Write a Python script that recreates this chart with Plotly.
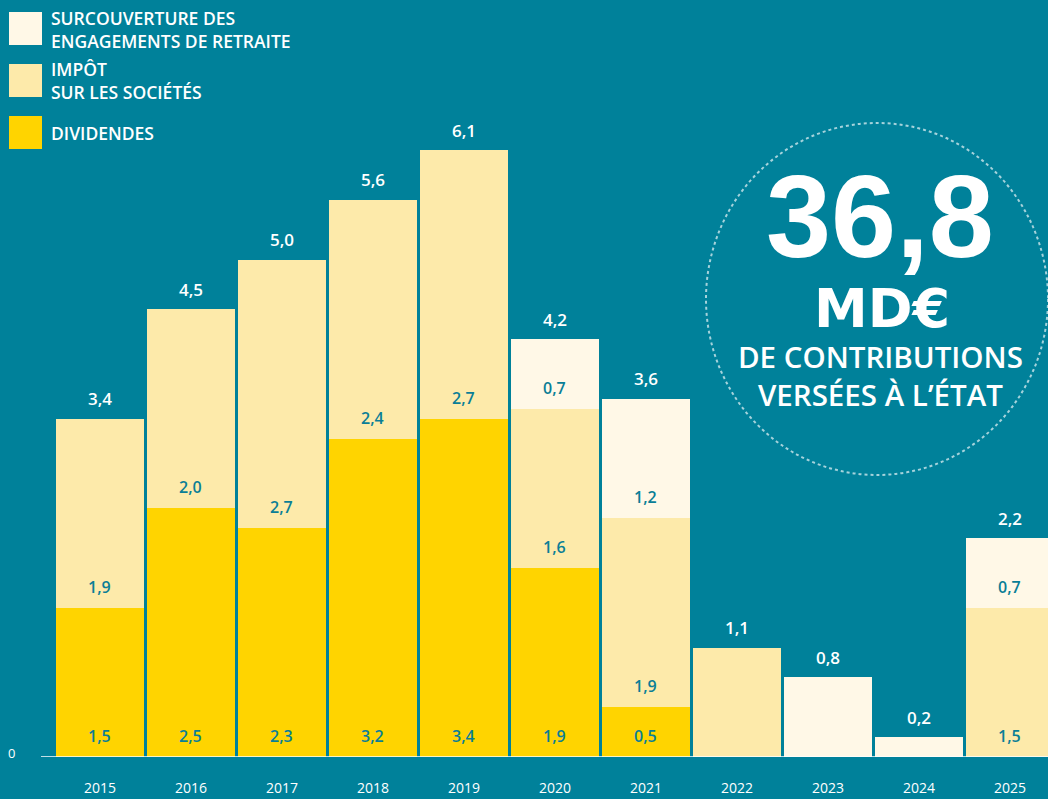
import plotly.graph_objects as go

years = ["2015", "2016", "2017", "2018", "2019", "2020", "2021", "2022", "2023", "2024", "2025"]
dividendes = [1.5, 2.5, 2.3, 3.2, 3.4, 1.9, 0.5, None, None, None, None]
impot = [1.9, 2.0, 2.7, 2.4, 2.7, 1.6, 1.9, 1.1, None, None, 1.5]
surcouverture = [None, None, None, None, None, 0.7, 1.2, None, 0.8, 0.2, 0.7]
totals = [3.4, 4.5, 5.0, 5.6, 6.1, 4.2, 3.6, 1.1, 0.8, 0.2, 2.2]

legend_labels = ["SURCOUVERTURE DES<br>ENGAGEMENTS DE RETRAITE", "IMPÔT<br>SUR LES SOCIÉTÉS", "DIVIDENDES"]

BG = "#00819A"
C_DIV = "#FFD400"
C_IS = "#FDEAAA"
C_SUR = "#FFF8E7"
TXT_IN = "#0A7E96"
FONT = "Open Sans"

W, H = 1048, 799
ML, MB, MT, MR = 41, 42, 0, 0
PW, PH = W - ML - MR, H - MT - MB


def fmt(v):
    return f"{v:.1f}".replace(".", ",")


def pxx(x):
    return (x - ML) / PW


def pxy(y):
    return (H - MB - y) / PH


fig = go.Figure()
series = [("Dividendes", dividendes, C_DIV), ("Impôt sur les sociétés", impot, C_IS),
          ("Surcouverture", surcouverture, C_SUR)]
for name, vals, col in series:
    fig.add_trace(go.Bar(x=years, y=vals, name=name, marker=dict(color=col, line=dict(width=0)),
                         hoverinfo="skip"))

annotations = []
for i, yr in enumerate(years):
    segs = [v for v in (dividendes[i], impot[i], surcouverture[i]) if v]
    base = 0.0
    if len(segs) > 1:
        for v in segs:
            annotations.append(dict(x=i, y=base, yshift=21, text=fmt(v), showarrow=False,
                                    xref="x", yref="y", yanchor="middle",
                                    font=dict(family=FONT, size=16, color=TXT_IN, weight=600)))
            base += v
    annotations.append(dict(x=i, y=totals[i], yshift=20, text=fmt(totals[i]), showarrow=False,
                            xref="x", yref="y", yanchor="middle",
                            font=dict(family=FONT, size=17, color="white", weight=600)))
    annotations.append(dict(x=i, y=0, yshift=-30, text=yr, showarrow=False, xref="x", yref="y",
                            yanchor="middle", font=dict(family=FONT, size=14, color="white")))

annotations.append(dict(x=0, y=0, xshift=-30, yshift=4, text="0", showarrow=False, xref="paper", yref="y",
                        xanchor="center", yanchor="middle", font=dict(family=FONT, size=13, color="white")))

shapes = [dict(type="line", xref="paper", yref="y", x0=0, x1=1, y0=0, y1=0,
               line=dict(color="white", width=1.5), layer="above")]

leg_cols = [C_SUR, C_IS, C_DIV]
leg_tops = [12, 64, 116]
for lab, col, top in zip(legend_labels, leg_cols, leg_tops):
    shapes.append(dict(type="rect", xref="paper", yref="paper", x0=pxx(9), x1=pxx(42),
                       y0=pxy(top + 33), y1=pxy(top), fillcolor=col, line=dict(width=0)))
    annotations.append(dict(xref="paper", yref="paper", x=pxx(49), y=pxy(top + 17), text=lab,
                            showarrow=False, xanchor="left", yanchor="middle", align="left",
                            font=dict(family=FONT, size=17.5, color="white", weight=600)))

shapes.append(dict(type="circle", xref="paper", yref="paper", xsizemode="pixel", ysizemode="pixel",
                   xanchor=pxx(877), yanchor=pxy(299), x0=-171, x1=171, y0=-176, y1=176,
                   line=dict(color="rgba(255,255,255,0.65)", width=2, dash="dot")))
annotations.append(dict(xref="paper", yref="paper", x=pxx(880), y=pxy(216), text="<b>36,8</b>",
                        showarrow=False, xanchor="center", yanchor="middle",
                        font=dict(family="Liberation Sans", size=117, color="white")))
annotations.append(dict(xref="paper", yref="paper", x=pxx(882), y=pxy(309), text="<b>MD€</b>",
                        showarrow=False, xanchor="center", yanchor="middle",
                        font=dict(family="DejaVu Sans", size=54, color="white")))
annotations.append(dict(xref="paper", yref="paper", x=pxx(880), y=pxy(375),
                        text="DE CONTRIBUTIONS<br>VERSÉES À L’ÉTAT",
                        showarrow=False, xanchor="center", yanchor="middle", align="center",
                        font=dict(family=FONT, size=29.5, color="white", weight=600)))

fig.update_layout(
    width=W, height=H, margin=dict(l=ML, r=MR, t=MT, b=MB, pad=0),
    paper_bgcolor=BG, plot_bgcolor=BG, barmode="stack", bargap=0.033, showlegend=False,
    xaxis=dict(type="category", range=[-0.648, 10.418], showticklabels=False, showgrid=False,
               zeroline=False, fixedrange=True),
    yaxis=dict(range=[0, 7.608], visible=False, showgrid=False, zeroline=False),
    annotations=annotations, shapes=shapes,
)

fig.write_html("out.html", config={"displayModeBar": False},
               post_script="document.body.style.margin='0';document.body.style.background='%s';" % BG)
